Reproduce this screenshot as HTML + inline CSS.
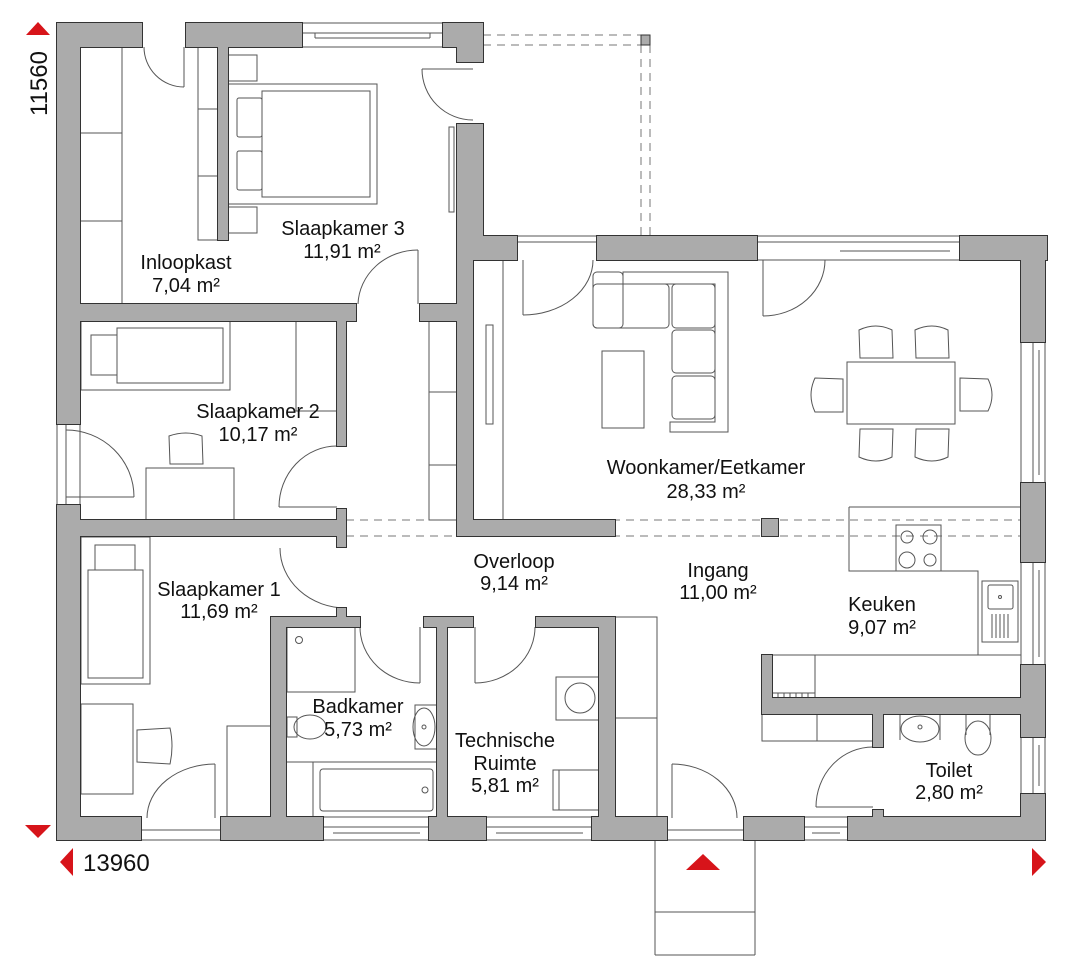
<!DOCTYPE html>
<html><head><meta charset="utf-8"><style>
html,body{margin:0;padding:0;background:#fff}
svg{display:block}
text{font-family:"Liberation Sans",sans-serif;fill:#111}
</style></head><body>
<svg width="1080" height="975" viewBox="0 0 1080 975" xmlns="http://www.w3.org/2000/svg">
<g fill="none" stroke="#555" stroke-width="1">
<g stroke-dasharray="8,6" stroke="#777">
<line x1="483" y1="35" x2="641" y2="35"/><line x1="483" y1="45" x2="641" y2="45"/>
<line x1="641" y1="45" x2="641" y2="236"/><line x1="650" y1="45" x2="650" y2="236"/>
<line x1="346" y1="520" x2="1021" y2="520"/><line x1="346" y1="536" x2="1021" y2="536"/>
</g>
<rect x="302" y="23" width="141" height="24"/><line x1="302" y1="33" x2="443" y2="33"/><line x1="315" y1="38" x2="430" y2="38"/><line x1="315" y1="33" x2="315" y2="38"/><line x1="430" y1="33" x2="430" y2="38"/>
<line x1="517" y1="236" x2="597" y2="236"/><line x1="517" y1="242" x2="597" y2="242"/>
<rect x="757" y="236" width="203" height="24"/><line x1="757" y1="242" x2="960" y2="242"/><line x1="840" y1="251" x2="950" y2="251"/>
<rect x="1021" y="342" width="24" height="141"/><line x1="1033" y1="342" x2="1033" y2="483"/><line x1="1039" y1="350" x2="1039" y2="475"/>
<rect x="1021" y="562" width="24" height="103"/><line x1="1033" y1="562" x2="1033" y2="665"/><line x1="1039" y1="570" x2="1039" y2="657"/>
<rect x="1021" y="737" width="24" height="57"/><line x1="1033" y1="737" x2="1033" y2="794"/><line x1="1039" y1="745" x2="1039" y2="786"/>
<rect x="57" y="424" width="23" height="81"/><line x1="66" y1="424" x2="66" y2="505"/>
<rect x="323" y="817" width="106" height="23"/><line x1="323" y1="827" x2="429" y2="827"/><line x1="333" y1="833" x2="420" y2="833"/>
<rect x="486" y="817" width="106" height="23"/><line x1="486" y1="827" x2="592" y2="827"/><line x1="496" y1="833" x2="583" y2="833"/>
<rect x="804" y="817" width="44" height="23"/><line x1="804" y1="827" x2="848" y2="827"/><line x1="812" y1="833" x2="840" y2="833"/>
<line x1="141" y1="830" x2="221" y2="830"/><line x1="141" y1="840" x2="221" y2="840"/>
<line x1="667" y1="830" x2="744" y2="830"/><line x1="667" y1="840" x2="744" y2="840"/>
<line x1="655" y1="840" x2="655" y2="955"/><line x1="755" y1="840" x2="755" y2="955"/>
<line x1="655" y1="912" x2="755" y2="912"/><line x1="655" y1="955" x2="755" y2="955"/>
<line x1="184" y1="47" x2="184" y2="87"/><path d="M144,47 A40,40 0 0 0 184,87"/>
<line x1="422" y1="69" x2="473" y2="69"/><path d="M422,69 A51,51 0 0 0 473,120"/>
<line x1="418" y1="250" x2="418" y2="304"/><path d="M418,250 A60,56 0 0 0 358,304"/>
<line x1="66" y1="497" x2="134" y2="497"/><path d="M66,430 A68,67 0 0 1 134,497"/>
<line x1="279" y1="507" x2="337" y2="507"/><path d="M279,507 A58,61 0 0 1 337,446"/>
<path d="M280,548 A66,60 0 0 0 346,608"/>
<line x1="420" y1="627" x2="420" y2="683"/><path d="M360,627 A60,56 0 0 0 420,683"/>
<line x1="475" y1="627" x2="475" y2="683"/><path d="M535,627 A60,56 0 0 1 475,683"/>
<line x1="215" y1="764" x2="215" y2="818"/><path d="M215,764 A68,54 0 0 0 147,818"/>
<line x1="523" y1="260" x2="523" y2="315"/><path d="M523,315 A70,55 0 0 0 593,260"/>
<line x1="763" y1="260" x2="763" y2="316"/><path d="M763,316 A62,56 0 0 0 825,260"/>
<line x1="672" y1="764" x2="672" y2="818"/><path d="M672,764 A65,54 0 0 1 737,818"/>
<line x1="816" y1="807" x2="873" y2="807"/><path d="M816,807 A57,60 0 0 1 873,747"/>
<rect x="80" y="47" width="42" height="257"/><line x1="80" y1="133" x2="122" y2="133"/><line x1="80" y1="221" x2="122" y2="221"/>
<rect x="198" y="47" width="20" height="193"/><line x1="198" y1="109" x2="218" y2="109"/><line x1="198" y1="176" x2="218" y2="176"/>
<rect x="228" y="55" width="29" height="26"/><rect x="228" y="207" width="29" height="26"/>
<rect x="228" y="84" width="149" height="120"/><rect x="262" y="91" width="108" height="106"/>
<rect x="237" y="98" width="25" height="39" rx="2"/><rect x="237" y="151" width="25" height="39" rx="2"/>
<rect x="449" y="127" width="5" height="85"/>
<rect x="81" y="321" width="149" height="69"/><rect x="117" y="328" width="106" height="55"/><rect x="91" y="335" width="26" height="40"/>
<polyline points="296,321 296,411 337,411"/>
<path d="M170,464 L169,436 Q186,430 202,436 L203,464 Z"/>
<rect x="146" y="468" width="88" height="52"/>
<rect x="429" y="321" width="28" height="199"/><line x1="429" y1="392" x2="457" y2="392"/><line x1="429" y1="465" x2="457" y2="465"/>
<line x1="503" y1="260" x2="503" y2="520"/><rect x="486" y="325" width="7" height="99"/>
<rect x="81" y="537" width="69" height="147"/><rect x="88" y="570" width="55" height="108"/><rect x="95" y="545" width="40" height="25"/>
<rect x="81" y="704" width="52" height="90"/>
<path d="M137,730 L137,762 L170,764 Q174,746 170,728 Z"/>
<rect x="227" y="726" width="44" height="91"/>
<rect x="287" y="627" width="68" height="65"/><circle cx="299" cy="640" r="3.5"/>
<rect x="287" y="717" width="10" height="20"/><ellipse cx="310" cy="727" rx="16" ry="12"/>
<rect x="415" y="705" width="22" height="44"/><ellipse cx="424" cy="727" rx="11" ry="19"/><circle cx="424" cy="727" r="2"/>
<line x1="287" y1="762" x2="437" y2="762"/><line x1="313" y1="762" x2="313" y2="817"/>
<rect x="320" y="769" width="113" height="42" rx="3"/><circle cx="425" cy="790" r="3"/>
<rect x="556" y="677" width="43" height="43"/><circle cx="580" cy="698" r="15"/>
<rect x="553" y="770" width="46" height="40"/><line x1="559" y1="770" x2="559" y2="810"/>
<rect x="615" y="617" width="42" height="200"/><line x1="615" y1="718" x2="657" y2="718"/>
<path d="M623,272 L728,272 L728,432 L670,432 L670,422 L715,422 L715,284 L623,284 Z"/>
<rect x="593" y="272" width="30" height="56" rx="4"/>
<rect x="593" y="284" width="76" height="44" rx="4"/>
<rect x="672" y="284" width="43" height="44" rx="4"/>
<rect x="672" y="330" width="43" height="43" rx="4"/>
<rect x="672" y="376" width="43" height="43" rx="4"/>
<rect x="602" y="351" width="42" height="77"/>
<rect x="847" y="362" width="108" height="62"/>
<path d="M860,358 L859,330 Q876,322 892,330 L893,358 Z"/>
<path d="M916,358 L915,330 Q932,322 948,330 L949,358 Z"/>
<path d="M860,429 L859,457 Q876,465 892,457 L893,429 Z"/>
<path d="M916,429 L915,457 Q932,465 948,457 L949,429 Z"/>
<path d="M843,379 L815,378 Q807,395 815,412 L843,412 Z"/>
<path d="M960,378 L988,379 Q996,395 988,411 L960,411 Z"/>
<path d="M849,507 L1021,507 M849,507 L849,571 L978,571 L978,655 L1021,655"/>
<rect x="896" y="525" width="45" height="46"/>
<circle cx="907" cy="537" r="6"/><circle cx="930" cy="537" r="7"/><circle cx="907" cy="560" r="8"/><circle cx="930" cy="560" r="6"/>
<rect x="982" y="581" width="36" height="61"/><rect x="988" y="585" width="25" height="24" rx="2"/><circle cx="1000" cy="597" r="1.5"/>
<path d="M992,614 V638 M996,614 V638 M1000,614 V638 M1004,614 V638 M1008,614 V638"/>
<line x1="772" y1="655" x2="978" y2="655"/>
<rect x="772" y="655" width="43" height="43"/><line x1="772" y1="693" x2="815" y2="693"/>
<path d="M778,693 V698 M784,693 V698 M790,693 V698 M796,693 V698 M802,693 V698 M808,693 V698"/>
<rect x="762" y="714" width="111" height="27"/><line x1="817" y1="714" x2="817" y2="741"/>
<path d="M900,714 L900,740 M940,714 L940,740"/><ellipse cx="920" cy="729" rx="19" ry="13"/><circle cx="920" cy="727" r="2"/>
<path d="M966,714 L966,735 M990,714 L990,735"/><ellipse cx="978" cy="738" rx="13" ry="17"/>
</g>
<g fill="#ababab" stroke="#333" stroke-width="2">
<rect x="57" y="23" width="23" height="401"/><rect x="57" y="505" width="23" height="335"/>
<rect x="57" y="23" width="85" height="24"/><rect x="186" y="23" width="116" height="24"/><rect x="218" y="47" width="10" height="193"/>
<rect x="443" y="23" width="40" height="24"/><rect x="457" y="23" width="26" height="39"/>
<rect x="457" y="124" width="26" height="136"/><rect x="457" y="236" width="16" height="300"/>
<rect x="457" y="236" width="60" height="24"/><rect x="597" y="236" width="160" height="24"/><rect x="960" y="236" width="87" height="24"/>
<rect x="1021" y="236" width="24" height="106"/><rect x="1021" y="483" width="24" height="79"/><rect x="1021" y="665" width="24" height="72"/><rect x="1021" y="794" width="24" height="46"/>
<rect x="57" y="817" width="84" height="23"/><rect x="221" y="817" width="102" height="23"/><rect x="429" y="817" width="57" height="23"/><rect x="592" y="817" width="75" height="23"/><rect x="744" y="817" width="60" height="23"/><rect x="848" y="817" width="197" height="23"/>
<rect x="80" y="304" width="276" height="17"/><rect x="420" y="304" width="37" height="17"/>
<rect x="337" y="321" width="9" height="125"/>
<rect x="80" y="520" width="257" height="16"/><rect x="337" y="509" width="9" height="38"/><rect x="457" y="520" width="158" height="16"/>
<rect x="337" y="608" width="9" height="10"/><rect x="271" y="617" width="89" height="10"/><rect x="271" y="617" width="15" height="201"/>
<rect x="424" y="617" width="49" height="10"/><rect x="437" y="617" width="10" height="201"/>
<rect x="536" y="617" width="79" height="10"/><rect x="599" y="617" width="16" height="201"/>
<rect x="762" y="519" width="16" height="17"/>
<rect x="762" y="655" width="10" height="43"/><rect x="762" y="698" width="283" height="16"/>
<rect x="873" y="714" width="10" height="33"/><rect x="873" y="810" width="10" height="8"/>
</g>
<g fill="#ababab">
<rect x="57" y="23" width="23" height="401"/><rect x="57" y="505" width="23" height="335"/>
<rect x="57" y="23" width="85" height="24"/><rect x="186" y="23" width="116" height="24"/><rect x="218" y="47" width="10" height="193"/>
<rect x="443" y="23" width="40" height="24"/><rect x="457" y="23" width="26" height="39"/>
<rect x="457" y="124" width="26" height="136"/><rect x="457" y="236" width="16" height="300"/>
<rect x="457" y="236" width="60" height="24"/><rect x="597" y="236" width="160" height="24"/><rect x="960" y="236" width="87" height="24"/>
<rect x="1021" y="236" width="24" height="106"/><rect x="1021" y="483" width="24" height="79"/><rect x="1021" y="665" width="24" height="72"/><rect x="1021" y="794" width="24" height="46"/>
<rect x="57" y="817" width="84" height="23"/><rect x="221" y="817" width="102" height="23"/><rect x="429" y="817" width="57" height="23"/><rect x="592" y="817" width="75" height="23"/><rect x="744" y="817" width="60" height="23"/><rect x="848" y="817" width="197" height="23"/>
<rect x="80" y="304" width="276" height="17"/><rect x="420" y="304" width="37" height="17"/>
<rect x="337" y="321" width="9" height="125"/>
<rect x="80" y="520" width="257" height="16"/><rect x="337" y="509" width="9" height="38"/><rect x="457" y="520" width="158" height="16"/>
<rect x="337" y="608" width="9" height="10"/><rect x="271" y="617" width="89" height="10"/><rect x="271" y="617" width="15" height="201"/>
<rect x="424" y="617" width="49" height="10"/><rect x="437" y="617" width="10" height="201"/>
<rect x="536" y="617" width="79" height="10"/><rect x="599" y="617" width="16" height="201"/>
<rect x="762" y="519" width="16" height="17"/>
<rect x="762" y="655" width="10" height="43"/><rect x="762" y="698" width="283" height="16"/>
<rect x="873" y="714" width="10" height="33"/><rect x="873" y="810" width="10" height="8"/>
</g>
<rect x="641" y="35" width="9" height="10" fill="#ababab" stroke="#333"/>
<g fill="#d7141a">
<polygon points="38,22 26,35 50,35"/>
<polygon points="25,825 51,825 38,838"/>
<polygon points="60,862 73,848 73,876"/>
<polygon points="1032,848 1046,862 1032,876"/>
<polygon points="703,854 686,870 720,870"/>
</g>
<text x="0" y="0" font-size="24" transform="translate(47,116) rotate(-90)">11560</text>
<text x="83" y="871" font-size="24">13960</text>
<g font-size="20" text-anchor="middle">
<text x="343" y="235">Slaapkamer 3</text><text x="342" y="258">11,91 m²</text>
<text x="186" y="269">Inloopkast</text><text x="186" y="292">7,04 m²</text>
<text x="258" y="418">Slaapkamer 2</text><text x="258" y="441">10,17 m²</text>
<text x="706" y="474">Woonkamer/Eetkamer</text><text x="706" y="498">28,33 m²</text>
<text x="514" y="568">Overloop</text><text x="514" y="590">9,14 m²</text>
<text x="718" y="577">Ingang</text><text x="718" y="599">11,00 m²</text>
<text x="219" y="596">Slaapkamer 1</text><text x="219" y="618">11,69 m²</text>
<text x="882" y="611">Keuken</text><text x="882" y="634">9,07 m²</text>
<text x="358" y="713">Badkamer</text><text x="358" y="736">5,73 m²</text>
<text x="505" y="747">Technische</text><text x="505" y="770">Ruimte</text><text x="505" y="792">5,81 m²</text>
<text x="949" y="777">Toilet</text><text x="949" y="799">2,80 m²</text>
</g>
</svg>
</body></html>
